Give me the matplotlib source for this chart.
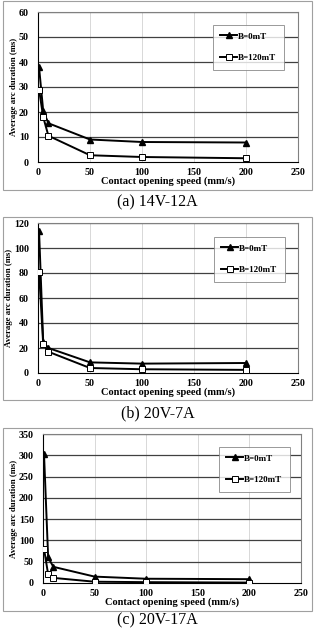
import matplotlib
matplotlib.use("Agg")
import matplotlib.pyplot as plt
from matplotlib.patches import Rectangle

plt.rcParams['font.family'] = ['Liberation Serif', 'DejaVu Serif']

speeds = [1, 5, 10, 50, 100, 200]

a_b0 = [38, 20.5, 15.5, 9, 8, 7.8]
a_b120 = [29, 18, 10.5, 2.7, 2.0, 1.5]
b_b0 = [114, 25, 20, 8.5, 7.5, 8]
b_b120 = [81, 23, 17, 4, 3, 2.5]
c_b0 = [302, 60, 38, 15, 10, 9]
c_b120 = [80, 20, 12, 3, 2, 1]

labels = ["B=0mT", "B=120mT"]
captions = ["(a) 14V-12A", "(b) 20V-7A", "(c) 20V-17A"]
ylims = [(0, 60, 10), (0, 120, 20), (0, 350, 50)]
xticks = [0, 50, 100, 150, 200, 250]
ylabel = "Average arc duration (ms)"
xlabel = "Contact opening speed (mm/s)"

W, H = 315, 630
fig = plt.figure(figsize=(W / 100, H / 100), dpi=100)

# pixel layout: (plot left, top, right, bottom), frame (top, bottom), caption y, legend (x0, y0, x1, y1)
layout = [
    dict(ax=(38, 12, 298, 162), frame=(1, 190), cap=202, leg=(213, 25, 287, 70)),
    dict(ax=(38, 223, 298, 373), frame=(217, 400), cap=413, leg=(214, 237, 287, 281)),
    dict(ax=(43, 434, 301, 583), frame=(428, 611), cap=620, leg=(219, 447, 291, 489)),
]
series = [(a_b0, a_b120), (b_b0, b_b120), (c_b0, c_b120)]

for i, (lay, (s0, s1)) in enumerate(zip(layout, series)):
    l, t, r, b = lay["ax"]
    ft, fb = lay["frame"]
    fig.patches.append(Rectangle((2.5 / W, 1 - fb / H), 309 / W, (fb - ft) / H,
                                 transform=fig.transFigure, fill=False,
                                 edgecolor="#a0a0a0", linewidth=0.8))
    ax = fig.add_axes([l / W, 1 - b / H, (r - l) / W, (b - t) / H])
    y0, y1, ys = ylims[i]
    ax.set_xlim(0, 250)
    ax.set_ylim(y0, y1)
    ax.set_xticks(xticks)
    ax.set_yticks(list(range(y0, y1 + 1, ys)))
    for x in xticks[1:]:
        ax.axvline(x, color="#d8d8d8", linewidth=0.7, zorder=0)
    for y in range(y0 + ys, y1 + 1, ys):
        ax.axhline(y, color="#404040", linewidth=0.9, zorder=0)
    ax.plot(speeds, s0, color="black", marker="^", markersize=5, linewidth=1.4,
            markerfacecolor="black", label=labels[0], zorder=3)
    ax.plot(speeds, s1, color="black", marker="s", markersize=5, linewidth=1.4,
            markerfacecolor="white", markeredgewidth=0.7, label=labels[1], zorder=3)
    for sp in ax.spines.values():
        sp.set_color("#808080")
        sp.set_linewidth(0.8)
    ax.spines["left"].set_color("black")
    ax.spines["bottom"].set_color("black")
    ax.tick_params(axis="x", length=0, labelsize=7.2, pad=4.0)
    ax.tick_params(axis="y", length=0, labelsize=7.2, pad=6.5)
    for lab in ax.get_xticklabels() + ax.get_yticklabels():
        lab.set_fontweight("bold")
    ax.set_ylabel(ylabel, fontsize=6.3, fontweight="bold", labelpad=1)
    ax.set_xlabel(xlabel, fontsize=7.5, fontweight="bold", labelpad=0)
    lx0, ly0, lx1, ly1 = lay["leg"]
    leg = ax.legend(loc="upper left",
                    bbox_to_anchor=((lx0 - l) / (r - l), 1 - (ly0 - t) / (b - t)),
                    frameon=True, fancybox=False, handlelength=1.9,
                    labelspacing=1.5, borderpad=0.8, handletextpad=0.1,
                    borderaxespad=0, prop=dict(weight="bold", size=6.5))
    leg.get_frame().set_edgecolor("#808080")
    leg.get_frame().set_linewidth(0.7)
    fig.text(0.5, 1 - lay["cap"] / H, captions[i], ha="center", va="center",
             fontsize=11.5)

fig.savefig("out.png", dpi=100)
